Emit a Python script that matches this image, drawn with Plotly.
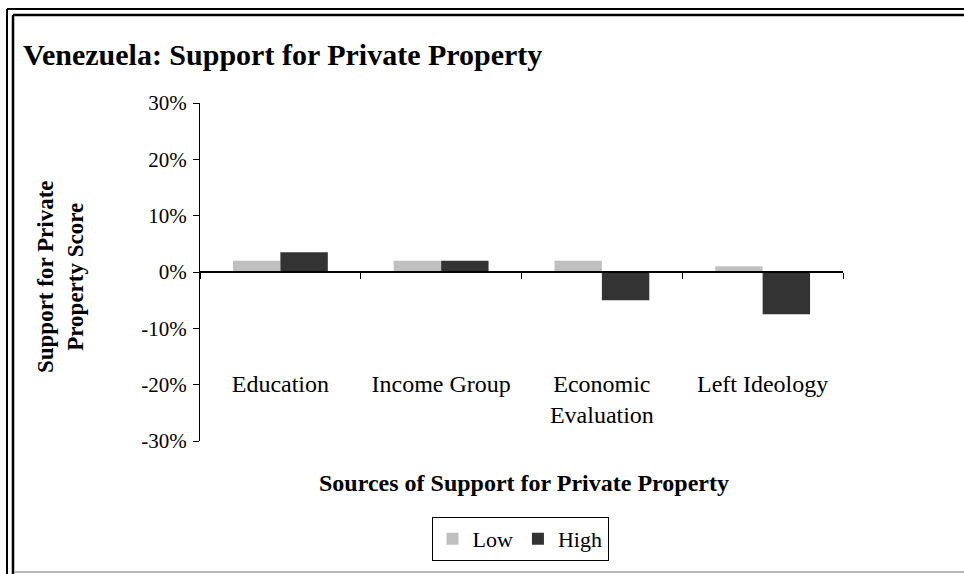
import plotly.graph_objects as go

categories = ["Education", "Income Group", "Economic<br>Evaluation", "Left Ideology"]
low_values = [0.020, 0.020, 0.020, 0.010]
high_values = [0.035, 0.020, -0.050, -0.075]
y_ticks = [-0.3, -0.2, -0.1, 0.0, 0.1, 0.2, 0.3]
y_tick_labels = ["-30%", "-20%", "-10%", "0%", "10%", "20%", "30%"]

W, H = 964, 574
L, R, T, B = 200, 121, 103, 133
FONT = "Liberation Serif, Times New Roman, serif"

def px_x(p):
    return (p - L) / (W - L - R)

def px_y(p):
    return 1 - (p - T) / (H - T - B)

fig = go.Figure()
fig.add_trace(go.Bar(x=categories, y=low_values, name="Low", marker=dict(color="#c0c0c0", line=dict(width=0))))
fig.add_trace(go.Bar(x=categories, y=high_values, name="High", marker=dict(color="#333333", line=dict(width=0))))

# frame: double line on top/left, thin grey at the bottom
frame = [
    (7, 9, W + 5, 9, "black", 2), (7, 9, 7, H + 5, "black", 2),
    (13, 15, W + 5, 15, "black", 2.5), (13, 15, 13, H + 5, "black", 2.5),
    (14, 572, W + 5, 572, "#a0a0a0", 1.5),
]
shapes = [dict(type="line", xref="paper", yref="paper", x0=px_x(a), y0=px_y(b), x1=px_x(c), y1=px_y(d),
               line=dict(color=col, width=w)) for a, b, c, d, col, w in frame]

fig.update_layout(
    width=W, height=H,
    margin=dict(l=L, r=R, t=T, b=B),
    paper_bgcolor="white", plot_bgcolor="white",
    font=dict(family=FONT, size=20, color="black"),
    barmode="group", bargap=0.41, bargroupgap=0,
    showlegend=True,
    legend=dict(orientation="h", x=px_x(520), xanchor="center", y=px_y(517), yanchor="top",
                bordercolor="black", borderwidth=1, font=dict(size=22), itemwidth=30,
                traceorder="normal"),
    xaxis=dict(anchor="free", position=0.5, showline=True, linecolor="black", linewidth=1.5,
               ticks="outside", tickson="boundaries", ticklen=6, tickcolor="black",
               ticklabelstandoff=90, tickfont=dict(size=24), showgrid=False),
    yaxis=dict(range=[-0.3, 0.3], tickvals=y_ticks, ticktext=y_tick_labels, showline=True,
               linecolor="black", linewidth=1, ticks="outside", ticklen=6, tickcolor="black",
               showgrid=False, zeroline=False, tickfont=dict(size=21), ticklabelstandoff=2),
    shapes=shapes,
    annotations=[
        dict(text="<b>Venezuela: Support for Private Property</b>", xref="paper", yref="paper",
             x=px_x(21), y=px_y(55), xanchor="left", yanchor="middle", showarrow=False,
             font=dict(size=30)),
        dict(text="<b>Support for Private<br>Property Score</b>", xref="paper", yref="paper",
             x=px_x(60), y=px_y(277), xanchor="center", yanchor="middle", textangle=-90,
             showarrow=False, font=dict(size=23)),
        dict(text="<b>Sources of Support for Private Property</b>", xref="paper", yref="paper",
             x=px_x(524), y=px_y(483), xanchor="center", yanchor="middle", showarrow=False,
             font=dict(size=24)),
    ],
)

fig.write_html("out.html", config={"displayModeBar": False},
               post_script="document.body.style.margin='0';")
